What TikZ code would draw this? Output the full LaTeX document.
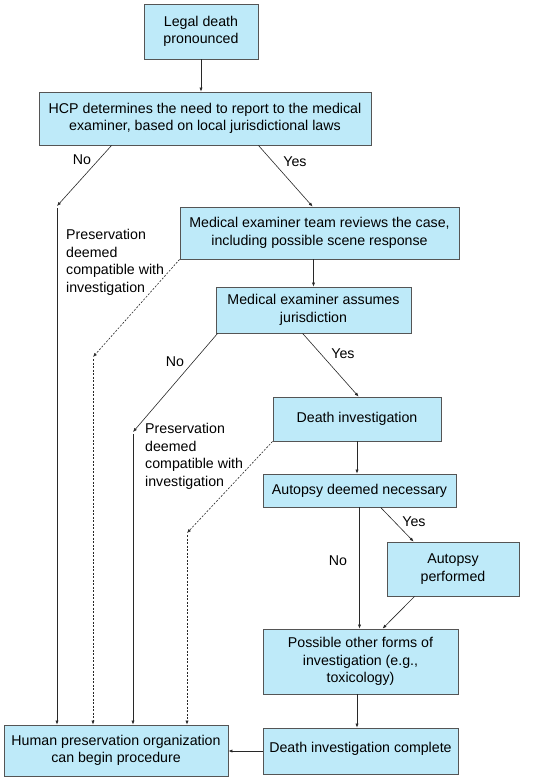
\documentclass[tikz,border=0pt]{standalone}
\usepackage{fontspec}
\setmainfont{Liberation Sans}
\usetikzlibrary{arrows.meta,calc}
\definecolor{boxfill}{RGB}{190,234,249}
\definecolor{boxline}{RGB}{85,85,85}
\definecolor{arrline}{RGB}{40,40,40}
\begin{document}
\begin{tikzpicture}[x=1pt,y=-1pt,
  font=\fontsize{14.2}{17.6}\selectfont,
  box/.style={draw=boxline,fill=boxfill,line width=0.8pt,align=center,inner sep=0pt},
  arr/.style={draw=arrline,line width=0.6pt,-{Latex[length=4pt,width=3.2pt]}},
  dotarr/.style={arr,dash pattern=on 2pt off 1.5pt},
  lab/.style={inner sep=0pt},
  note/.style={inner sep=0pt,align=left,anchor=north west}]
\useasboundingbox (0,0) rectangle (550,781);
% boxes
\node[box,minimum width=114pt,minimum height=55pt] (legal) at (201,31.5) {Legal death\\pronounced};
\node[box,minimum width=332pt,minimum height=53pt] (hcp) at (205,118.5) {HCP determines the need to report to the medical\\examiner, based on local jurisdictional laws};
\node[box,minimum width=279pt,minimum height=52pt] (met) at (319.5,233) {Medical examiner team reviews the case,\\including possible scene response};
\node[box,minimum width=195pt,minimum height=46pt] (meaj) at (313.5,310) {Medical examiner assumes\\jurisdiction};
\node[box,minimum width=168pt,minimum height=44pt] (di) at (357,419) {Death investigation};
\node[box,minimum width=193pt,minimum height=33pt] (adn) at (359.5,490.5) {Autopsy deemed necessary};
\node[box,minimum width=132pt,minimum height=54pt] (ap) at (453,569) {Autopsy\\performed};
\node[box,minimum width=195pt,minimum height=65pt] (pof) at (360.5,661.5) {Possible other forms of\\investigation (e.g.,\\toxicology)};
\node[box,minimum width=195pt,minimum height=46pt] (dic) at (360.5,751) {\raisebox{7pt}{Death investigation complete}};
\node[box,minimum width=224pt,minimum height=51pt] (hpo) at (116,750.5) {Human preservation organization\\can begin procedure};
% free ends
\coordinate (n1) at (57,206);
\coordinate (d1) at (93,357);
\coordinate (n2) at (133,432);
\coordinate (d2) at (187,533);
% connectors
\draw[arr] (legal.south) -- (legal.south |- hcp.north);
\draw[arr] ([xshift=73pt]hcp.south west) -- (n1);
\draw[arr] ([yshift=-2pt]n1) -- (n1 |- hpo.north);
\draw[arr] ([xshift=-113pt]hcp.south east) -- ([xshift=133pt]met.north west);
\draw[dotarr] (met.south west) -- (d1);
\draw[dotarr] ([yshift=-2pt]d1) -- (d1 |- hpo.north);
\draw[arr] (meaj.north |- met.south) -- (meaj.north);
\draw[arr] ([xshift=2pt]meaj.south west) -- (n2);
\draw[arr] ([yshift=-2pt]n2) -- (n2 |- hpo.north);
\draw[arr] ([xshift=87pt]meaj.south west) -- ([xshift=86pt]di.north west);
\draw[dotarr] (di.south west) -- (d2);
\draw[dotarr] ([yshift=-2pt]d2) -- (d2 |- hpo.north);
\draw[arr] (di.south) -- (di.south |- adn.north);
\draw[arr] ([xshift=118pt]adn.south west) -- ([xshift=27pt]ap.north west);
\draw[arr] (adn.south) -- (adn.south |- pof.north);
\draw[arr] ([xshift=28pt]ap.south west) -- ([xshift=120pt]pof.north west);
\draw[arr] ([xshift=-3.5pt]pof.south) -- ([xshift=-3.5pt]dic.north);
\draw[arr] (dic.west) -- (dic.west -| hpo.east);
% labels
\node[lab] (l1) at (82,160) {No};
\node[lab] (l2) at (295,162) {Yes};
\node[lab] (l3) at (175,362) {No};
\node[lab] (l4) at (343,354) {Yes};
\node[lab] (l5) at (414,522) {Yes};
\node[lab] (l6) at (338,561) {No};
\node[note] (p1) at (66,229) {Preservation\\deemed\\compatible with\\investigation};
\node[note] (p2) at (145,423) {Preservation\\deemed\\compatible with\\investigation};
\end{tikzpicture}
\end{document}
